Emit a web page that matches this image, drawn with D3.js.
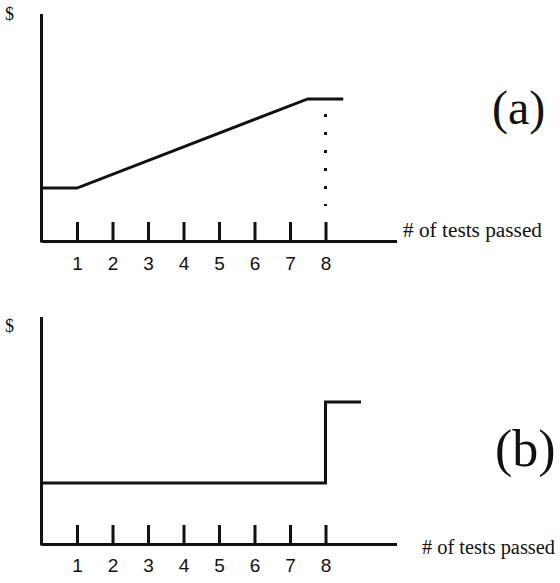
<!DOCTYPE html>
<html>
<head>
<meta charset="utf-8">
<script src="https://cdn.jsdelivr.net/npm/d3@7"></script>
<style>
  body { margin: 0; background: #fff; }
  svg { display: block; }
</style>
</head>
<body>
<div id="chart"></div>
<script>
// tick labels along x
const testTicks = [1, 2, 3, 4, 5, 6, 7, 8];

// panel (a): flat, linear ramp, flat after 7.5
const aX = [0, 1, 7.5, 8.5];
const aY = [2.33, 2.33, 6.26, 6.26];

// panel (b): flat until 8, then a jump
const bX = [0, 8, 8, 9];
const bY = [2.69, 2.69, 6.26, 6.26];

const width = 560;
const height = 583;
const serif = "'Liberation Serif', 'Times New Roman', serif";
const sans = "'Liberation Sans', Arial, sans-serif";

const svg = d3.select("#chart").append("svg")
  .attr("width", width)
  .attr("height", height);

const x = d3.scaleLinear().domain([0, 10]).range([41.5, 396.5]);

const panels = [
  { top: 14, bottom: 241, xs: aX, ys: aY, tag: "(a)", tagX: 492, tagY: 124, tagSize: 48,
    labelX: 403, labelY: 237, labelLen: 139, padding: 16, dollarY: 20, dotted: true },
  { top: 317, bottom: 544, xs: bX, ys: bY, tag: "(b)", tagX: 495, tagY: 466, tagSize: 52,
    labelX: 422, labelY: 554, labelLen: 133, padding: 15, dollarY: 332, dotted: false }
];

panels.forEach(p => {
  const y = d3.scaleLinear().domain([0, 10]).range([p.bottom, p.top]);
  const g = svg.append("g");

  // x axis with ticks pointing up
  const xAxis = g.append("g")
    .attr("transform", `translate(0,${p.bottom})`)
    .call(d3.axisBottom(x).tickValues(testTicks).tickFormat(d3.format("d"))
      .tickSizeInner(-19).tickSizeOuter(0).tickPadding(p.padding));
  xAxis.select(".domain").attr("stroke", "#111").attr("stroke-width", 3);
  xAxis.selectAll(".tick line").attr("stroke", "#111").attr("stroke-width", 3);
  xAxis.selectAll(".tick text")
    .style("font-family", sans)
    .style("font-size", "19px")
    .attr("fill", "#111");

  // y axis line
  g.append("line")
    .attr("x1", x(0)).attr("x2", x(0))
    .attr("y1", y(10)).attr("y2", p.bottom + 1.5)
    .attr("stroke", "#111").attr("stroke-width", 3);

  const line = d3.line().x(d => x(d[0])).y(d => y(d[1]));
  g.append("path")
    .datum(d3.zip(p.xs, p.ys))
    .attr("d", line)
    .attr("fill", "none")
    .attr("stroke", "#111")
    .attr("stroke-width", 3);

  if (p.dotted) {
    g.append("line")
      .attr("x1", x(8)).attr("x2", x(8))
      .attr("y1", y(p.ys[2]) + 15).attr("y2", y(p.ys[0]) + 18)
      .attr("stroke", "#111").attr("stroke-width", 3)
      .attr("stroke-dasharray", "3,15");
  }

  g.append("text")
    .style("font-family", serif)
    .style("font-size", "18px")
    .attr("fill", "#111")
    .attr("x", 5).attr("y", p.dollarY)
    .text("$");

  g.append("text")
    .style("font-family", serif)
    .style("font-size", "20px")
    .attr("fill", "#111")
    .attr("x", p.labelX).attr("y", p.labelY)
    .attr("textLength", p.labelLen)
    .attr("lengthAdjust", "spacingAndGlyphs")
    .text("# of tests passed");

  g.append("text")
    .style("font-family", serif)
    .style("font-size", p.tagSize + "px")
    .attr("fill", "#111")
    .attr("x", p.tagX).attr("y", p.tagY)
    .text(p.tag);
});
</script>
</body>
</html>
